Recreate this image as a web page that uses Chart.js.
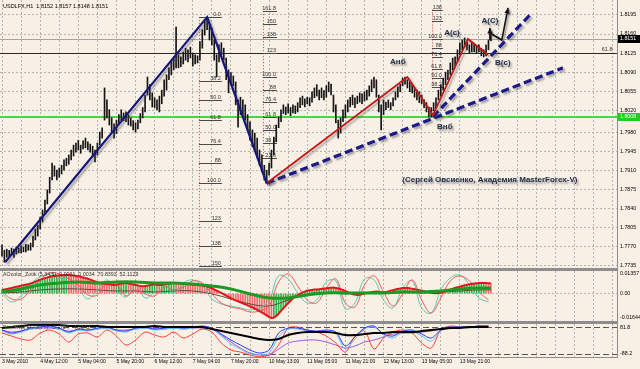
<!DOCTYPE html>
<html>
<head>
<meta charset="utf-8">
<script src="https://cdn.jsdelivr.net/npm/chart.js"></script>
<style>
html, body { margin: 0; padding: 0; background: #f8f0e5; }
#wrap { position: relative; width: 640px; height: 369px; overflow: hidden; }
canvas { position: absolute; left: 0; }
.sep { position: absolute; left: 0; width: 617px; height: 3px; background: #8e8e8e; }
</style>
</head>
<body>
<div id="wrap">
  <canvas id="main" width="640" height="268" style="top:0"></canvas>
  <div class="sep" style="top:268px"></div>
  <canvas id="ao" width="640" height="50" style="top:271px"></canvas>
  <div class="sep" style="top:321px"></div>
  <canvas id="osc" width="640" height="45" style="top:324px"></canvas>
  <div style="position:absolute;left:617px;top:0;width:1px;height:357px;background:#8e8e8e"></div>
  <div style="position:absolute;left:0;top:357px;width:618px;height:1px;background:#8e8e8e"></div>
</div>
<script>
// USDLFX H1, one entry per bar from the left edge
const hi = [
  1.7773, 1.7763, 1.7765, 1.7763, 1.7767, 1.7765, 1.7769, 1.7767, 1.7771, 1.7769,
  1.7774, 1.7773, 1.7776, 1.7789, 1.7802, 1.7809, 1.7824, 1.7837, 1.7855, 1.7874,
  1.7897, 1.7923, 1.7918, 1.7910, 1.7914, 1.7919, 1.7929, 1.7932, 1.7938, 1.7947,
  1.7956, 1.7960, 1.7965, 1.7956, 1.7964, 1.7969, 1.7962, 1.7958, 1.7954, 1.7947,
  1.7960, 1.7980, 1.7988, 1.8061, 1.8039, 1.8021, 1.8006, 1.7995, 1.8002, 1.8012,
  1.8021, 1.8015, 1.8017, 1.8012, 1.8006, 1.8001, 1.7997, 1.8002, 1.8014, 1.8025,
  1.8048, 1.8081, 1.8067, 1.8052, 1.8043, 1.8039, 1.8046, 1.8057, 1.8076, 1.8085,
  1.8098, 1.8112, 1.8116, 1.8173, 1.8122, 1.8118, 1.8127, 1.8134, 1.8131, 1.8136,
  1.8125, 1.8122, 1.8120, 1.8146, 1.8168, 1.8186, 1.8191, 1.8180, 1.8171, 1.8149,
  1.8122, 1.8140, 1.8144, 1.8134, 1.8116, 1.8094, 1.8089, 1.8083, 1.8072, 1.8039,
  1.8044, 1.8039, 1.8030, 1.8012, 1.7999, 1.7984, 1.7978, 1.7969, 1.7947, 1.7938,
  1.7919, 1.7910, 1.7923, 1.7947, 1.7971, 1.7993, 1.8008, 1.8021, 1.8030, 1.8026,
  1.8032, 1.8025, 1.8030, 1.8028, 1.8034, 1.8043, 1.8046, 1.8041, 1.8044, 1.8043,
  1.8054, 1.8061, 1.8067, 1.8057, 1.8061, 1.8056, 1.8065, 1.8072, 1.8068, 1.8048,
  1.8030, 1.8002, 1.8006, 1.8021, 1.8030, 1.8039, 1.8044, 1.8048, 1.8043, 1.8046,
  1.8052, 1.8050, 1.8054, 1.8057, 1.8065, 1.8076, 1.8081, 1.8076, 1.8048, 1.8030,
  1.8039, 1.8035, 1.8039, 1.8034, 1.8043, 1.8054, 1.8063, 1.8068, 1.8079, 1.8081,
  1.8076, 1.8072, 1.8068, 1.8061, 1.8057, 1.8054, 1.8048, 1.8039, 1.8034, 1.8026,
  1.8025, 1.8034, 1.8043, 1.8057, 1.8067, 1.8079, 1.8090, 1.8094, 1.8107, 1.8116,
  1.8118, 1.8131, 1.8144, 1.8149, 1.8153, 1.8146, 1.8140, 1.8144, 1.8142, 1.8138,
  1.8140, 1.8134, 1.8131, 1.8140, 1.8149, 1.8157
];
const lo = [
  1.7752, 1.7741, 1.7750, 1.7752, 1.7754, 1.7750, 1.7756, 1.7758, 1.7758, 1.7760,
  1.7760, 1.7763, 1.7763, 1.7769, 1.7782, 1.7789, 1.7802, 1.7815, 1.7829, 1.7848,
  1.7868, 1.7892, 1.7899, 1.7892, 1.7897, 1.7903, 1.7910, 1.7918, 1.7921, 1.7929,
  1.7936, 1.7943, 1.7947, 1.7941, 1.7949, 1.7951, 1.7947, 1.7943, 1.7934, 1.7925,
  1.7938, 1.7956, 1.7969, 1.8002, 1.8006, 1.7993, 1.7980, 1.7969, 1.7977, 1.7995,
  1.8002, 1.8001, 1.7999, 1.7993, 1.7991, 1.7984, 1.7980, 1.7986, 1.7997, 1.8006,
  1.8017, 1.8048, 1.8039, 1.8026, 1.8025, 1.8021, 1.8017, 1.8032, 1.8046, 1.8057,
  1.8076, 1.8085, 1.8094, 1.8098, 1.8098, 1.8100, 1.8105, 1.8112, 1.8109, 1.8116,
  1.8101, 1.8105, 1.8107, 1.8112, 1.8134, 1.8158, 1.8168, 1.8149, 1.8140, 1.8112,
  1.8081, 1.8109, 1.8122, 1.8112, 1.8076, 1.8052, 1.8067, 1.8065, 1.8030, 1.7989,
  1.8012, 1.8008, 1.8002, 1.7984, 1.7965, 1.7953, 1.7947, 1.7934, 1.7919, 1.7907,
  1.7892, 1.7886, 1.7901, 1.7914, 1.7938, 1.7962, 1.7988, 1.7999, 1.8014, 1.8012,
  1.8015, 1.8010, 1.8015, 1.8014, 1.8017, 1.8025, 1.8030, 1.8026, 1.8032, 1.8028,
  1.8035, 1.8043, 1.8046, 1.8039, 1.8043, 1.8039, 1.8044, 1.8054, 1.8048, 1.8017,
  1.7997, 1.7969, 1.7978, 1.7999, 1.8006, 1.8017, 1.8026, 1.8030, 1.8025, 1.8032,
  1.8035, 1.8032, 1.8037, 1.8039, 1.8046, 1.8054, 1.8061, 1.8044, 1.8017, 1.7984,
  1.8012, 1.8021, 1.8025, 1.8021, 1.8028, 1.8039, 1.8044, 1.8054, 1.8065, 1.8068,
  1.8061, 1.8054, 1.8052, 1.8044, 1.8039, 1.8034, 1.8032, 1.8025, 1.8017, 1.8008,
  1.8008, 1.8019, 1.8025, 1.8039, 1.8046, 1.8057, 1.8067, 1.8076, 1.8085, 1.8094,
  1.8101, 1.8109, 1.8122, 1.8131, 1.8136, 1.8131, 1.8125, 1.8127, 1.8127, 1.8125,
  1.8127, 1.8120, 1.8118, 1.8120, 1.8131, 1.8148
];

const priceTicks = [1.8195, 1.8160, 1.8125, 1.8090, 1.8055, 1.8020, 1.7980, 1.7945, 1.7910, 1.7875, 1.7840, 1.7805, 1.7770, 1.7735];
const timeIdx = [0, 16, 32, 48, 64, 80, 96, 112, 128, 144, 160, 176, 192];
const timeLabels = ['3 May 2010', '4 May 12:00', '5 May 04:00', '5 May 20:00', '6 May 12:00', '7 May 04:00', '7 May 20:00',
  '10 May 13:00', '11 May 05:00', '11 May 21:00', '12 May 13:00', '13 May 05:00', '13 May 21:00'];

// drawn wave lines (bar index, price)
const blueIdx = [1.3, 86, 111];
const blueVal = [1.7741, 1.8191, 1.7886];
const redIdx = [111, 170, 180.7, 195.4, 203.8];
const redVal = [1.7886, 1.8081, 1.8011, 1.8151, 1.8122];
const dashAIdx = [111, 235.2];
const dashAVal = [1.7886, 1.8098];
const dashBIdx = [180.7, 221.4];
const dashBVal = [1.8008, 1.8195];

// horizontal lines: bid, line with 61.8 tag, green level
const levelVal = [1.8151, 1.8125, 1.8008];

// fibo grids
const fib1Labels = ['0.0', '38.2', '50.0', '61.8', '76.4', '88', '100.0', '123', '138', '150'];
const fib1Prices = [1.8191, 1.8074, 1.8039, 1.8003, 1.7958, 1.7923, 1.7886, 1.7816, 1.7770, 1.7734];
const fib1Span = [82.6, 92.2];
const fib2Labels = ['161.8', '150', '138', '123', '100.0', '88', '76.4', '61.8', '50.0', '38.2', '23.6'];
const fib2Prices = [1.8202, 1.8179, 1.8155, 1.8126, 1.8081, 1.8058, 1.8035, 1.8007, 1.7984, 1.7960, 1.7932];
const fib2Span = [109.4, 115.3];
const fib3Labels = ['138', '123', '100.0', '88', '76.4', '61.8', '50.0', '38.2'];
const fib3Prices = [1.8205, 1.8184, 1.8151, 1.8134, 1.8117, 1.8096, 1.8080, 1.8063];
const fib3Span = [180.3, 184.9];

const noteText = ['Анб', 'Внб', 'A(c)', 'A(C)', 'B(c)', '(Сергей Овсиенко, Академия MasterForex-V)'];
const noteIdx = [166, 185.7, 188.7, 204.6, 210, 204.6];
const noteVal = [1.8109, 1.7989, 1.8162, 1.8184, 1.8107, 1.7892];

const arrow1Idx = [204.6, 204.6];
const arrow1Val = [1.8149, 1.8171];
const arrow2Idx = [204.6, 209.6, 212.2];
const arrow2Val = [1.8162, 1.8149, 1.8208];

// AOcolor_Zotik panel
const ao = [
  0.0022, 0.0025, 0.0027, 0.0031, 0.0034, 0.0038, 0.0041, 0.0044,
  0.0048, 0.0051, 0.0053, 0.0057, 0.0061, 0.0066, 0.0072, 0.0078, 0.0083, 0.0088, 0.0093, 0.0097, 0.0101, 0.0104,
  0.0106, 0.0108, 0.0109, 0.0110, 0.0111, 0.0112, 0.0111, 0.0110, 0.0108, 0.0106, 0.0104, 0.0101,
  0.0097, 0.0093, 0.0089, 0.0084, 0.0079, 0.0073, 0.0068, 0.0064,
  0.0060, 0.0058, 0.0057, 0.0055, 0.0053, 0.0052, 0.0054, 0.0057, 0.0060, 0.0062, 0.0063, 0.0061, 0.0058, 0.0055, 0.0052, 0.0049,
  0.0046, 0.0044, 0.0045, 0.0048, 0.0051, 0.0053, 0.0054, 0.0053, 0.0051, 0.0052, 0.0055, 0.0058, 0.0061, 0.0063, 0.0064, 0.0063, 0.0062, 0.0060,
  0.0058, 0.0057, 0.0056, 0.0055, 0.0053, 0.0052, 0.0051, 0.0050, 0.0049, 0.0047, 0.0043, 0.0038,
  0.0032, 0.0025, 0.0018, 0.0011, 0.0004, -0.0004, -0.0012, -0.0020, -0.0028,
  -0.0035, -0.0041, -0.0047, -0.0053, -0.0059, -0.0065, -0.0071, -0.0077, -0.0083, -0.0090, -0.0097, -0.0105,
  -0.0113, -0.0122, -0.0131, -0.0140, -0.0146,
  -0.0144, -0.0135, -0.0120, -0.0104, -0.0088, -0.0072, -0.0057, -0.0043,
  -0.0030, -0.0019, -0.0009, -0.0001, 0.0006, 0.0012, 0.0017, 0.0020,
  0.0022, 0.0024, 0.0025, 0.0026, 0.0028, 0.0030, 0.0032, 0.0034,
  0.0035, 0.0036, 0.0034, 0.0031, 0.0027, 0.0022,
  0.0016, 0.0009, 0.0003, -0.0002, -0.0006, -0.0008, -0.0007,
  -0.0004, 0.0000, 0.0004, 0.0007, 0.0009, 0.0011, 0.0012, 0.0011, 0.0009, 0.0008, 0.0010, 0.0013,
  0.0017, 0.0021, 0.0025, 0.0028, 0.0031, 0.0033, 0.0034, 0.0034, 0.0032, 0.0030, 0.0027, 0.0024, 0.0021, 0.0018,
  0.0015, 0.0011, 0.0008, 0.0005, 0.0003, 0.0002, 0.0003, 0.0005,
  0.0009, 0.0014, 0.0019, 0.0024, 0.0029, 0.0034, 0.0038, 0.0042,
  0.0046, 0.0050, 0.0053, 0.0056, 0.0058, 0.0060, 0.0062, 0.0063, 0.0064, 0.0064, 0.0063, 0.0062, 0.0061
];
const slowIdx = [0, 8, 16, 24, 32, 40, 48, 56, 64, 72, 80, 88, 96, 104, 112, 120, 128, 136, 144, 152, 160, 168, 176, 184, 192, 200, 205];
const greenAO = [0.0010, 0.0028, 0.0052, 0.0064, 0.0070, 0.0064, 0.0070, 0.0070, 0.0064, 0.0064, 0.0058, 0.0046, 0.0028, -0.0002,
  -0.0026, -0.0026, -0.0008, 0.0004, 0.0004, 0.0004, 0.0004, 0.0010, 0.0010, 0.0016, 0.0028, 0.0034, 0.0034];
const darkAO = [0.0004, 0.0010, 0.0022, 0.0028, 0.0028, 0.0022, 0.0016, 0.0016, 0.0010, 0.0016, 0.0016, -0.0002, -0.0032, -0.0062,
  -0.0074, -0.0038, -0.0002, 0.0004, -0.0002, 0.0004, 0.0004, 0.0010, 0.0004, 0.0010, 0.0016, 0.0022, 0.0022];
const oscIdx = [0, 4, 8, 12, 16, 20, 24, 28, 32, 36, 40, 44, 48, 52, 56, 60, 64, 68, 72, 76, 80, 84, 88, 92, 96, 100,
  104, 108, 112, 116, 120, 124, 128, 132, 136, 140, 144, 148, 152, 156, 160, 164, 168, 172, 176, 180, 184, 188, 192, 196, 200, 204];
const tealAO = [0.0004, -0.0050, -0.0014, 0.0058, 0.0100, 0.0118, 0.0100, 0.0064, 0.0028, -0.0032,
  0.0022, 0.0082, 0.0022, -0.0020, 0.0058, -0.0026, 0.0010, 0.0058, 0.0004, 0.0064,
  0.0082, 0.0046, -0.0032, -0.0062, -0.0074, -0.0086, -0.0098, -0.0086, -0.0038, 0.0106,
  0.0088, 0.0004, -0.0056, -0.0038, 0.0070, 0.0076, -0.0092, -0.0056, 0.0088, 0.0082,
  -0.0038, -0.0086, 0.0034, 0.0076, -0.0086, -0.0116, 0.0022, 0.0094, 0.0112, 0.0052, -0.0026, -0.0050];
const redAO = [0.0016, -0.0032, -0.0032, 0.0022, 0.0082, 0.0124, 0.0118, 0.0088, 0.0052, -0.0008,
  -0.0008, 0.0064, 0.0052, -0.0014, 0.0022, -0.0002, -0.0014, 0.0040, 0.0022, 0.0040,
  0.0076, 0.0064, -0.0002, -0.0056, -0.0080, -0.0092, -0.0110, -0.0104, -0.0074, 0.0070,
  0.0118, 0.0046, -0.0038, -0.0056, 0.0034, 0.0088, -0.0056, -0.0080, 0.0052, 0.0106,
  0.0010, -0.0074, -0.0002, 0.0082, -0.0038, -0.0116, -0.0026, 0.0076, 0.0106, 0.0076, 0.0010, -0.0038];
const aoAxisVals = [0.01357, 0, -0.01644];
const aoAxisText = ['0.01357', '0.00', '-0.01644'];

// lower oscillator panel
const oscBlack = [75.5, 81.8, 88.1, 94.4, 94.4, 94.4, 94.4, 88.1, 88.1, 88.1, 88.1, 81.8, 81.8, 81.8, 81.8, 81.8, 88.1, 81.8, 81.8, 81.8,
  81.8, 81.8, 69.2, 56.6, 44.0, 31.4, 18.8, 6.2, -0.1, 6.2, 31.4, 44.0, 50.3, 50.3, 50.3, 44.0, 31.4, 31.4, 37.7, 44.0,
  44.0, 50.3, 50.3, 50.3, 56.6, 62.9, 69.2, 75.5, 75.5, 81.8, 81.8, 81.8];
const oscBlue = [62.9, 44.0, 56.6, 75.5, 81.8, 88.1, 75.5, 50.3, 69.2, 62.9, 75.5, 81.8, 62.9, 56.6, 75.5, 81.8, 69.2, 75.5, 81.8, 75.5,
  81.8, 88.1, 75.5, 37.7, -0.1, -31.6, -63.1, -82.0, -63.1, 44.0, 75.5, 75.5, 62.9, 56.6, 62.9, 50.3, -37.9, 18.8, 75.5, 88.1,
  37.7, 25.1, 56.6, 62.9, 37.7, 12.5, 62.9, 81.8, 81.8, 81.8, 88.1, 88.1];
const oscCyan = [56.6, 37.7, 50.3, 69.2, 81.8, 81.8, 69.2, 44.0, 62.9, 56.6, 69.2, 75.5, 56.6, 50.3, 69.2, 75.5, 62.9, 69.2, 75.5, 69.2,
  75.5, 81.8, 69.2, 25.1, -25.3, -56.8, -88.3, -94.6, -82.0, 18.8, 69.2, 69.2, 56.6, 50.3, 56.6, 37.7, -56.8, 6.2, 69.2, 81.8,
  31.4, 12.5, 50.3, 56.6, 25.1, -6.4, 56.6, 75.5, 81.8, 75.5, 81.8, 81.8];
const oscRed = [44.0, 25.1, 6.2, -0.1, 44.0, 62.9, 37.7, -12.7, 37.7, 44.0, 18.8, 62.9, 25.1, -31.6, -0.1, 50.3, 31.4, 18.8, 50.3, 12.5,
  37.7, 69.2, 50.3, -19.0, -63.1, -75.7, -94.6, -105.0, -94.6, -31.6, 75.5, 81.8, 62.9, 50.3, 25.1, -19.0, -75.7, 25.1, 56.6, -56.8,
  12.5, 50.3, 62.9, 44.0, -19.0, -50.5, 62.9, 88.1, 81.8, 81.8, 88.1, 88.1];
const oscPurple = [62.9, 50.3, 56.6, 69.2, 75.5, 75.5, 69.2, 56.6, 62.9, 62.9, 69.2, 75.5, 62.9, 62.9, 69.2, 75.5, 69.2, 69.2, 75.5, 69.2,
  75.5, 75.5, 69.2, 31.4, -12.7, -50.5, -82.0, -94.6, -94.6, -56.8, -19.0, -6.4, -0.1, -0.1, -12.7, -31.6, -50.5, -37.9, -12.7, -0.1,
  18.8, 37.7, 44.0, 44.0, 50.3, 56.6, 69.2, 75.5, 81.8, 81.8, 88.1, 88.1];
const oscLevels = [81.8, -88.2];

// ---------------------------------------------------------------

const xMin = -0.84, xMax = 257.9;
const gridIdx = [];
for (let g = 0; g <= 256; g += 8) gridIdx.push(g);
const small = { family: 'Liberation Sans', size: 5.3 };

function pts(xs, ys) {
  return xs.map((x, k) => ({ x: x, y: ys[k] }));
}

function xScale(withLabels) {
  return {
    type: 'linear', min: xMin, max: xMax, offset: false,
    afterBuildTicks: s => { s.ticks = gridIdx.map(v => ({ value: v })); },
    grid: { color: '#b3b3b3', drawTicks: false, offset: false },
    border: { display: false, dash: [2, 2] },
    ticks: withLabels ? {
      display: true, autoSkip: false, maxRotation: 0, minRotation: 0, align: 'start', padding: 2,
      color: '#000', font: { family: 'Liberation Sans', size: 5 },
      callback: v => { const k = timeIdx.indexOf(v); return k < 0 ? '' : timeLabels[k]; }
    } : { display: false },
    afterFit: s => { s.height = withLabels ? 12 : 0; s.paddingLeft = 0; s.paddingRight = 0; }
  };
}

function yScale(min, max, tickVals, gridColor, dash, labels) {
  return {
    position: 'right', min: min, max: max, beginAtZero: false,
    afterBuildTicks: s => { s.ticks = tickVals.map(v => ({ value: v })); },
    grid: { color: gridColor, drawTicks: false },
    border: { display: false, dash: dash },
    ticks: labels ? { display: true, color: '#000', padding: 3, font: small, callback: v => v.toFixed(4) } : { display: false },
    afterFit: s => { s.width = 23; s.paddingTop = 0; s.paddingBottom = 0; }
  };
}

const shadowPlugin = {
  id: 'shadow',
  beforeDatasetDraw(chart, args) {
    if (chart.data.datasets[args.index].shadow) {
      const c = chart.ctx;
      c.save();
      c.shadowColor = 'rgba(70,70,70,0.45)';
      c.shadowBlur = 2;
      c.shadowOffsetX = 2;
      c.shadowOffsetY = 2;
    }
  },
  afterDatasetDraw(chart, args) {
    if (chart.data.datasets[args.index].shadow) chart.ctx.restore();
  }
};

function drawFib(ctx, X, Y, labels, prices, span) {
  const xv = Math.round(X(span[0])) + 0.5;
  ctx.strokeStyle = '#e33'; ctx.lineWidth = 1; ctx.setLineDash([1, 2]);
  ctx.beginPath();
  ctx.moveTo(xv, Y(prices[0]));
  ctx.lineTo(xv, Y(prices[prices.length - 1]));
  ctx.stroke();
  ctx.setLineDash([]);
  ctx.strokeStyle = '#4a4a4a'; ctx.fillStyle = '#333';
  ctx.font = '5.5px "Liberation Sans"'; ctx.textAlign = 'right'; ctx.textBaseline = 'bottom';
  labels.forEach((t, k) => {
    const y = Math.round(Y(prices[k])) + 0.5;
    ctx.beginPath(); ctx.moveTo(X(span[0]), y); ctx.lineTo(X(span[1]), y); ctx.stroke();
    ctx.fillText(t, X(span[1]) - 1, y - 0.5);
  });
}

function drawArrow(ctx, X, Y, xs, ys) {
  ctx.beginPath();
  xs.forEach((x, k) => { if (k === 0) ctx.moveTo(X(x), Y(ys[k])); else ctx.lineTo(X(x), Y(ys[k])); });
  ctx.stroke();
  const n = xs.length - 1;
  const x1 = X(xs[n]), y1 = Y(ys[n]), x0 = X(xs[n - 1]), y0 = Y(ys[n - 1]);
  const a = Math.atan2(y1 - y0, x1 - x0);
  ctx.beginPath();
  ctx.moveTo(x1, y1);
  ctx.lineTo(x1 - 6 * Math.cos(a - 0.45), y1 - 6 * Math.sin(a - 0.45));
  ctx.lineTo(x1 - 6 * Math.cos(a + 0.45), y1 - 6 * Math.sin(a + 0.45));
  ctx.closePath();
  ctx.fill();
}

const mainOverlay = {
  id: 'mainOverlay',
  beforeDatasetsDraw(c) {
    const ctx = c.ctx, a = c.chartArea;
    const X = v => c.scales.x.getPixelForValue(v), Y = v => c.scales.y.getPixelForValue(v);
    ctx.save();
    const colors = ['#a4a4a4', '#2a2a2a', '#3fdc3f'];
    const widths = [1, 1, 2];
    levelVal.forEach((v, k) => {
      ctx.strokeStyle = colors[k]; ctx.lineWidth = widths[k];
      const y = widths[k] === 1 ? Math.round(Y(v)) + 0.5 : Math.round(Y(v));
      ctx.beginPath(); ctx.moveTo(a.left, y); ctx.lineTo(a.right, y); ctx.stroke();
    });
    ctx.fillStyle = '#333'; ctx.font = '5.5px "Liberation Sans"'; ctx.textAlign = 'right'; ctx.textBaseline = 'bottom';
    ctx.fillText('61.8', X(256), Y(levelVal[1]) - 1);
    drawFib(ctx, X, Y, fib1Labels, fib1Prices, fib1Span);
    drawFib(ctx, X, Y, fib2Labels, fib2Prices, fib2Span);
    drawFib(ctx, X, Y, fib3Labels, fib3Prices, fib3Span);
    ctx.restore();
  },
  afterDatasetsDraw(c) {
    const ctx = c.ctx;
    const X = v => c.scales.x.getPixelForValue(v), Y = v => c.scales.y.getPixelForValue(v);
    ctx.save();
    ctx.shadowColor = 'rgba(60,60,60,0.55)'; ctx.shadowBlur = 2; ctx.shadowOffsetX = 1.5; ctx.shadowOffsetY = 1.5;
    ctx.textAlign = 'center'; ctx.textBaseline = 'middle'; ctx.fillStyle = '#1f2d4d';
    noteText.forEach((t, k) => {
      ctx.font = 'bold 8px "Liberation Sans"';
      ctx.fillText(t, X(noteIdx[k]), Y(noteVal[k]));
    });
    ctx.strokeStyle = '#111'; ctx.fillStyle = '#111'; ctx.lineWidth = 1.6;
    drawArrow(ctx, X, Y, arrow1Idx, arrow1Val);
    drawArrow(ctx, X, Y, arrow2Idx, arrow2Val);
    ctx.restore();
  },
  afterDraw(c) {
    const ctx = c.ctx, a = c.chartArea, Y = v => c.scales.y.getPixelForValue(v);
    ctx.save();
    ctx.font = '5.5px "Liberation Sans"'; ctx.fillStyle = '#000'; ctx.textAlign = 'left'; ctx.textBaseline = 'middle';
    ctx.fillText('USDLFX,H1  1.8152 1.8157 1.8148 1.8151', 3, 6);
    ctx.font = '5.3px "Liberation Sans"';
    [[levelVal[0], '#000'], [levelVal[2], '#22cc22']].forEach(([v, bg]) => {
      const y = Math.round(Y(v));
      ctx.fillStyle = bg; ctx.fillRect(a.right + 1, y - 4, 22, 8);
      ctx.fillStyle = '#fff'; ctx.fillText(v.toFixed(4), a.right + 3, y);
    });
    ctx.restore();
  }
};

new Chart(document.getElementById('main'), {
  type: 'bar',
  data: {
    datasets: [
      { type: 'line', data: pts(blueIdx, blueVal), borderColor: '#16167c', borderWidth: 2.2, pointRadius: 0, shadow: true },
      { type: 'line', data: pts(redIdx, redVal), borderColor: '#c41616', borderWidth: 1.8, pointRadius: 0, shadow: true },
      { type: 'line', data: pts(dashAIdx, dashAVal), borderColor: '#1a1a8a', borderWidth: 3.2, borderDash: [8, 4], pointRadius: 0, shadow: true },
      { type: 'line', data: pts(dashBIdx, dashBVal), borderColor: '#1a1a8a', borderWidth: 3.2, borderDash: [8, 4], pointRadius: 0, shadow: true },
      { type: 'bar', data: hi.map((h, i) => ({ x: i, y: [lo[i], h] })), backgroundColor: '#151515', barThickness: 1, borderWidth: 0 }
    ]
  },
  options: {
    responsive: false, animation: false, events: [],
    layout: { padding: 0 },
    plugins: { legend: { display: false }, tooltip: { enabled: false } },
    scales: {
      x: xScale(false),
      y: yScale(1.77304, 1.82225, priceTicks, '#b3b3b3', [2, 2], true)
    }
  },
  plugins: [shadowPlugin, mainOverlay]
});

const aoOverlay = {
  id: 'aoOverlay',
  afterDraw(c) {
    const ctx = c.ctx, a = c.chartArea, Y = v => c.scales.y.getPixelForValue(v);
    ctx.save();
    ctx.font = '5.3px "Liberation Sans"'; ctx.fillStyle = '#333'; ctx.textAlign = 'left'; ctx.textBaseline = 'middle';
    ctx.fillText('AOcolor_Zotik (5,34,5)  0.0061  0.0034  70.8393  52.1129', 3, 4);
    ctx.fillStyle = '#000';
    aoAxisVals.forEach((v, k) => {
      const y = k === 0 ? Y(v) + 3 : (k === 2 ? Y(v) - 3 : Y(v));
      ctx.fillText(aoAxisText[k], a.right + 3, y);
    });
    ctx.restore();
  }
};

new Chart(document.getElementById('ao'), {
  type: 'bar',
  data: {
    datasets: [
      { type: 'line', data: pts(slowIdx, greenAO), borderColor: '#1d9a24', borderWidth: 3, pointRadius: 0, tension: 0.4 },
      { type: 'line', data: ao.map((v, i) => ({ x: i, y: v })), borderColor: '#e5141c', borderWidth: 2, pointRadius: 0, tension: 0.3 },
      { type: 'line', data: pts(oscIdx, redAO), borderColor: '#f05a5a', borderWidth: 1, pointRadius: 0, tension: 0.4 },
      { type: 'line', data: pts(oscIdx, tealAO), borderColor: '#5cc6ac', borderWidth: 1, pointRadius: 0, tension: 0.4 },
      { type: 'line', data: pts(slowIdx, darkAO), borderColor: '#5a4a40', borderWidth: 1, pointRadius: 0, tension: 0.4 },
      {
        type: 'bar', data: ao.map((v, i) => ({ x: i, y: v })), barThickness: 1, borderWidth: 0,
        backgroundColor: ctx => (ctx.dataIndex > 0 && ao[ctx.dataIndex] < ao[ctx.dataIndex - 1]) ? '#f46a6a' : '#32b44a'
      }
    ]
  },
  options: {
    responsive: false, animation: false, events: [],
    layout: { padding: 0 },
    plugins: { legend: { display: false }, tooltip: { enabled: false } },
    scales: {
      x: xScale(false),
      y: yScale(-0.01644, 0.01357, [0], '#b3b3b3', [2, 2], false)
    }
  },
  plugins: [aoOverlay]
});

const oscOverlay = {
  id: 'oscOverlay',
  afterDraw(c) {
    const ctx = c.ctx, a = c.chartArea, Y = v => c.scales.y.getPixelForValue(v);
    ctx.save();
    ctx.font = '5.3px "Liberation Sans"'; ctx.fillStyle = '#444'; ctx.textAlign = 'left'; ctx.textBaseline = 'middle';
    ctx.fillText('StochRSI (77,3,77)  -5.1724  -4.9342', 3, 4);
    ctx.fillStyle = '#000';
    oscLevels.forEach(v => ctx.fillText(v.toFixed(1), a.right + 3, Y(v)));
    ctx.restore();
  }
};

new Chart(document.getElementById('osc'), {
  type: 'line',
  data: {
    datasets: [
      { data: pts(oscIdx, oscBlack), borderColor: '#000', borderWidth: 2, pointRadius: 0, tension: 0.3 },
      { data: pts(oscIdx, oscBlue), borderColor: '#2a3cff', borderWidth: 1, pointRadius: 0, tension: 0.3 },
      { data: pts(oscIdx, oscCyan), borderColor: '#62c4e8', borderWidth: 1, pointRadius: 0, tension: 0.3 },
      { data: pts(oscIdx, oscRed), borderColor: '#ff3a3a', borderWidth: 1, pointRadius: 0, tension: 0.3 },
      { data: pts(oscIdx, oscPurple), borderColor: '#a456e0', borderWidth: 1, pointRadius: 0, tension: 0.3 }
    ]
  },
  options: {
    responsive: false, animation: false, events: [],
    layout: { padding: 0 },
    plugins: { legend: { display: false }, tooltip: { enabled: false } },
    scales: {
      x: xScale(true),
      y: yScale(-107, 101, oscLevels, '#555', [6, 3], false)
    }
  },
  plugins: [oscOverlay]
});
</script>
</body>
</html>
